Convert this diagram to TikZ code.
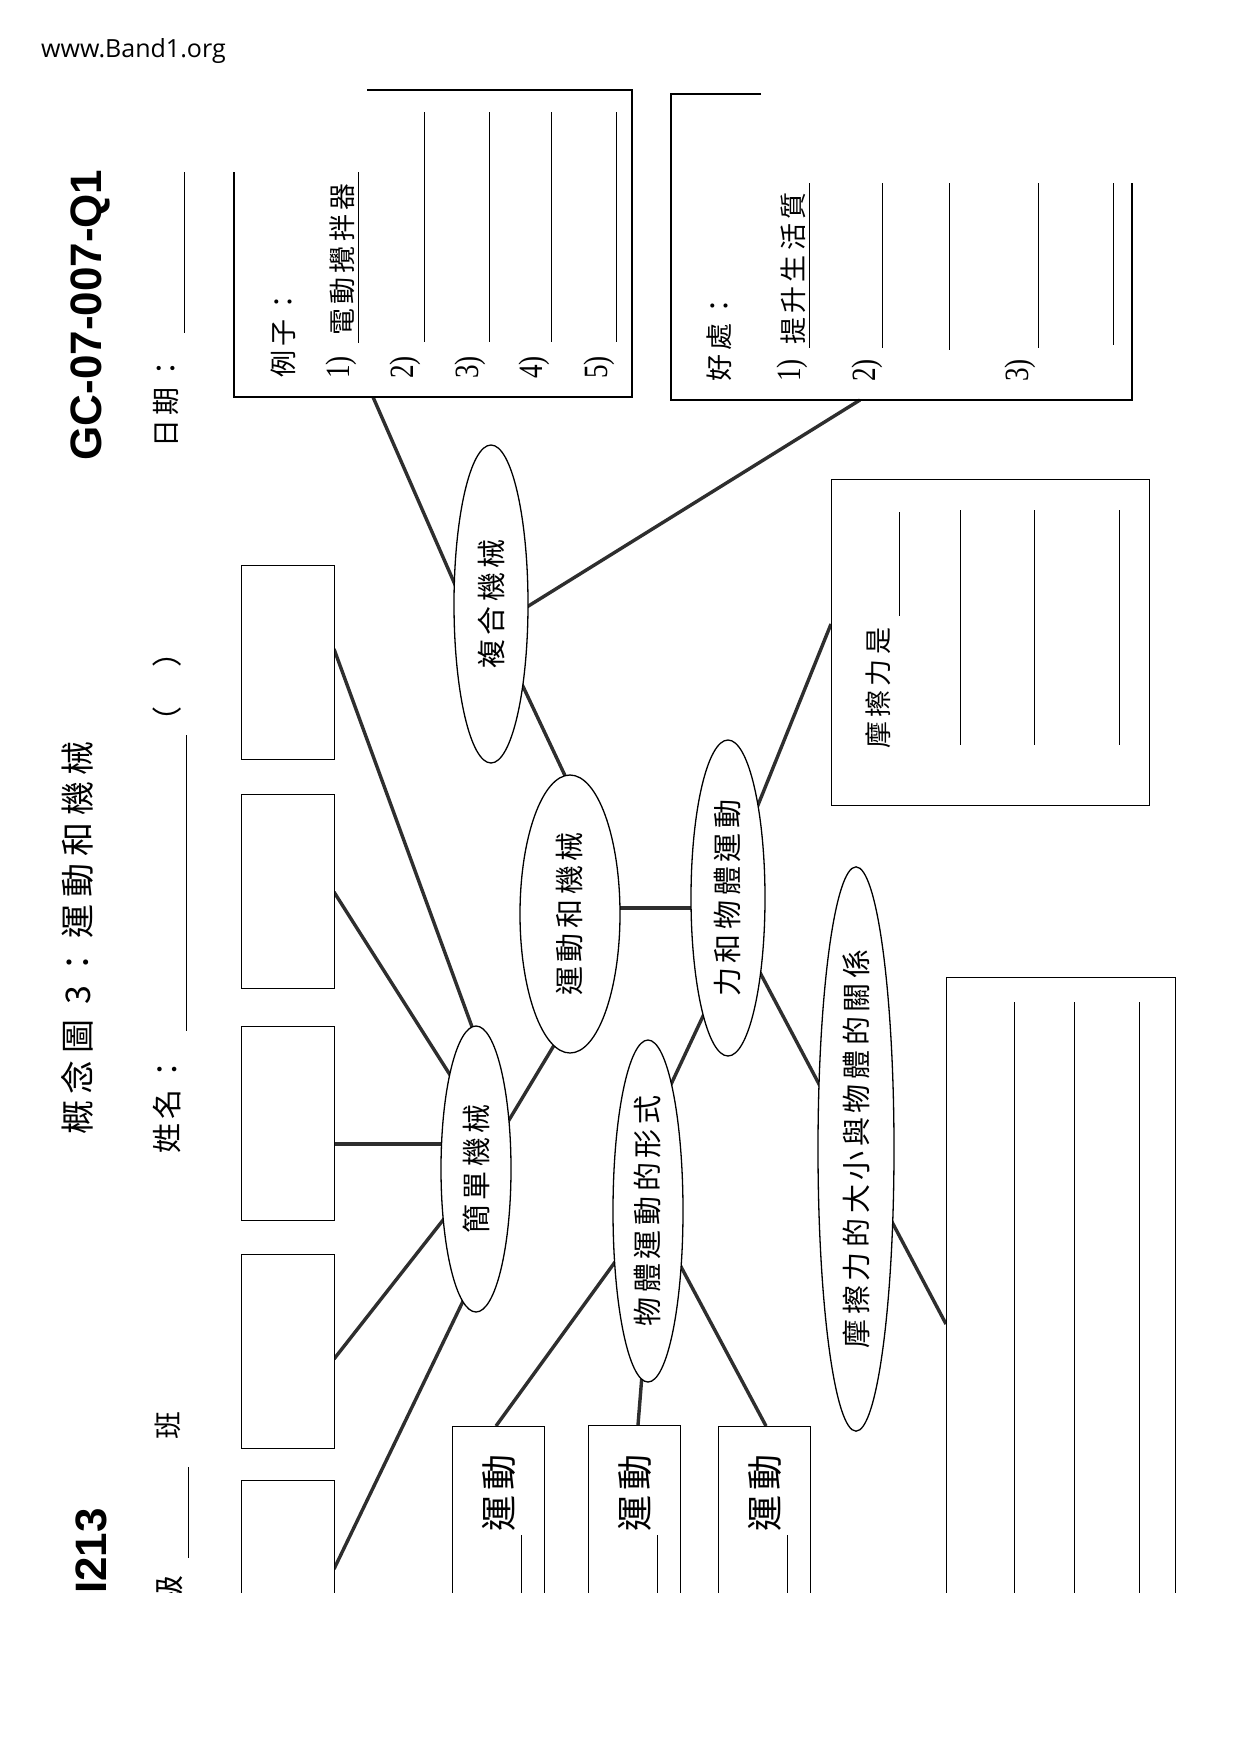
\documentclass[tikz,border=0pt]{standalone}
\usepackage{fontspec}
\setmainfont{Liberation Serif}
\newfontfamily\cjk[LetterSpace=16]{Noto Sans CJK TC}
\newfontfamily\cjkt[LetterSpace=20]{Noto Sans CJK TC}
\newfontfamily\hdsans{Liberation Sans}
\newfontfamily\websans{Open Sans}
\usetikzlibrary{shapes.geometric}
\pgfdeclarelayer{bg}
\pgfsetlayers{bg,main}
\newcommand\myfs[1]{\fontsize{#1}{#1}\selectfont}
\newcommand\numlbl[1]{\scalebox{0.8}[1]{#1}}
\tikzset{
  ell/.style={ellipse, draw, line width=1.3pt, fill=white, inner sep=0pt, rotate=90, font=\cjk\myfs{29}},
  sbox/.style={draw, line width=1.4pt, fill=white, inner sep=0pt, minimum width=93pt, minimum height=194pt, anchor=north west},
  frame/.style={line width=1.4pt},
  conn/.style={line width=3.4pt, draw=black!82},
  uline/.style={line width=1pt},
  vt/.style={rotate=90, anchor=west, inner sep=0pt},
  vc/.style={rotate=90, inner sep=0pt},
  numtxt/.style={rotate=90, anchor=west, inner sep=0pt, font=\myfs{34}},
}
\begin{document}
\begin{tikzpicture}[x=1pt,y=-1pt]
\begin{pgfonlayer}{bg}
\fill[white] (0,0) rectangle (1240,1754);
\end{pgfonlayer}
\useasboundingbox (0,0) rectangle (1240,1754);
\begin{scope}
\clip (0,0) rectangle (1240,1592);

% ---------- header ----------
\node[anchor=base west, inner sep=0pt, font=\websans\myfs{25}] (web) at (41,57) {www.Band1.org};
\node[vc, font=\hdsans\bfseries\myfs{44}] (code) at (90,315) {GC-07-007-Q1};
\node[vt, font=\hdsans\bfseries\myfs{44}] (num) at (91,1594) {I213};
\node[vt, font=\cjkt\myfs{34}] (title) at (77,1135) {概念圖 3：運動和機械};
\node[vt, font=\cjk\myfs{28}] (date) at (166,448) {日期：};
\draw[uline] (184,172) -- (184,333);
\node[vt, font=\cjk\myfs{30}] (name) at (167,1154) {姓名：};
\draw[uline] (186,735) -- (186,1031);
\node[vc, font=\cjk\myfs{30}] (paren) at (167,687) {（　）};
\node[vc, font=\cjk\myfs{28}] (cls) at (168,1425) {班};
\draw[uline] (188,1467) -- (188,1558);
\node[vt, font=\cjk\myfs{30}] (grade) at (169,1606) {級};

% ---------- examples box ----------
\draw[frame] (367,90) -- (632,90) -- (632,397) -- (234,397) -- (234,172);
\node[vt, font=\cjk\myfs{27}] (ex) at (283,378) {例子：};
\node[numtxt] (n1) at (341,379) {\numlbl{1)}};
\node[vt, font=\cjk\myfs{27}] (ex1) at (342,336) {電動攪拌器};
\draw[uline] (358,172) -- (358,343);
\node[numtxt] (n2) at (405,379) {\numlbl{2)}};
\draw[uline] (424,112) -- (424,342);
\node[numtxt] (n3) at (470,379) {\numlbl{3)}};
\draw[uline] (489,112) -- (489,342);
\node[numtxt] (n4) at (534,379) {\numlbl{4)}};
\draw[uline] (551,112) -- (551,342);
\node[numtxt] (n5) at (599,379) {\numlbl{5)}};
\draw[uline] (616,112) -- (616,342);

% ---------- benefits box ----------
\draw[frame] (761,94) -- (671,94) -- (671,400) -- (1132,400) -- (1132,183);
\node[vt, font=\cjk\myfs{27}] (bn) at (719,382) {好處：};
\node[numtxt] (m1) at (792,382) {\numlbl{1)}};
\node[vt, font=\cjk\myfs{27}] (bn1) at (793,345) {提升生活質};
\draw[uline] (809,183) -- (809,348);
\node[numtxt] (m2) at (867,382) {\numlbl{2)}};
\draw[uline] (882,183) -- (882,348);
\draw[uline] (949,183) -- (949,350);
\node[numtxt] (m3) at (1020,382) {\numlbl{3)}};
\draw[uline] (1038,183) -- (1038,348);
\draw[uline] (1113,183) -- (1113,345);

% ---------- friction box ----------
\node[draw, line width=1.4pt, fill=white, inner sep=0pt, minimum width=318pt, minimum height=326pt, anchor=north west] (fbox) at (831,479) {};
\node[vt, font=\cjk\myfs{27}] (ftxt) at (878,749) {摩擦力是};
\draw[uline] (899,512) -- (899,616);
\draw[uline] (960,510) -- (960,745);
\draw[uline] (1034,510) -- (1034,745);
\draw[uline] (1119,510) -- (1119,745);

% ---------- big answer box ----------
\node[draw, line width=1.4pt, fill=white, inner sep=0pt, minimum width=229pt, minimum height=700pt, anchor=north west] (bigbox) at (946,977) {};
\draw[uline] (1014,1002) -- (1014,1700);
\draw[uline] (1074,1002) -- (1074,1700);
\draw[uline] (1139,1002) -- (1139,1700);

% ---------- simple machine boxes ----------
\node[sbox] (bA) at (241,565) {};
\node[sbox] (bB) at (241,794) {};
\node[sbox] (bC) at (241,1026) {};
\node[sbox] (bD) at (241,1254) {};
\node[sbox] (bE) at (241,1480) {};

% ---------- motion boxes ----------
\node[sbox, minimum width=92pt, minimum height=220pt] (bF) at (452,1426) {};
\node[sbox, minimum width=92pt, minimum height=220pt] (bG) at (588,1425) {};
\node[sbox, minimum width=92pt, minimum height=220pt] (bH) at (718,1426) {};
\node[vt, font=\cjk\myfs{36}] (tF) at (499,1532) {運動};
\node[vt, font=\cjk\myfs{36}] (tG) at (635,1532) {運動};
\node[vt, font=\cjk\myfs{36}] (tH) at (765,1532) {運動};
\draw[uline] (521,1535) -- (521,1650);
\draw[uline] (657,1535) -- (657,1650);
\draw[uline] (787,1535) -- (787,1650);

% ---------- ellipses ----------
\node[ell, minimum width=318pt, minimum height=74pt] (eC) at (491,604) {複合機械};
\node[ell, minimum width=278pt, minimum height=100pt] (eM) at (570,914) {運動和機械};
\node[ell, minimum width=316pt, minimum height=74pt] (eF) at (728,898) {力和物體運動};
\node[ell, minimum width=286pt, minimum height=70pt] (eS) at (476,1169) {簡單機械};
\node[ell, minimum width=342pt, minimum height=70pt] (eK) at (648,1211) {物體運動的形式};
\node[ell, minimum width=556pt, minimum height=76pt] (eR) at (856,1149) {摩擦力的大小與物體的關係};

% ---------- connector end points ----------
\coordinate (c1a) at (373,397);  \coordinate (c1b) at (460,596);
\coordinate (c2a) at (860,400);  \coordinate (c2b) at (522,610);
\coordinate (c3a) at (520,680);  \coordinate (c3b) at (568,782);
\coordinate (c4a) at (615,908);  \coordinate (c4b) at (696,908);
\coordinate (c5a) at (754,815);  \coordinate (c5b) at (831,624);
\coordinate (c6a) at (756,965);  \coordinate (c6b) at (946,1324);
\coordinate (c7a) at (704,1014); \coordinate (c7b) at (666,1095);
\coordinate (c8a) at (556,1042); \coordinate (c8b) at (500,1135);
\coordinate (c9a) at (334,649);  \coordinate (c9b) at (475,1035);
\coordinate (c10a) at (334,892); \coordinate (c10b) at (452,1078);
\coordinate (c11a) at (334,1144);\coordinate (c11b) at (450,1144);
\coordinate (c12a) at (334,1359);\coordinate (c12b) at (447,1215);
\coordinate (c13a) at (334,1569);\coordinate (c13b) at (466,1295);
\coordinate (c14a) at (615,1262);\coordinate (c14b) at (496,1426);
\coordinate (c15a) at (642,1375);\coordinate (c15b) at (638,1425);
\coordinate (c16a) at (679,1263);\coordinate (c16b) at (766,1426);
\end{scope}

\begin{pgfonlayer}{bg}
\draw[conn] (c1a) -- (c1b);
\draw[conn] (c2a) -- (c2b);
\draw[conn] (c3a) -- (c3b);
\draw[conn] (c4a) -- (c4b);
\draw[conn] (c5a) -- (c5b);
\draw[conn] (c6a) -- (c6b);
\draw[conn] (c7a) -- (c7b);
\draw[conn] (c8a) -- (c8b);
\draw[conn] (c9a) -- (c9b);
\draw[conn] (c10a) -- (c10b);
\draw[conn] (c11a) -- (c11b);
\draw[conn] (c12a) -- (c12b);
\draw[conn] (c13a) -- (c13b);
\draw[conn] (c14a) -- (c14b);
\draw[conn] (c15a) -- (c15b);
\draw[conn] (c16a) -- (c16b);
\end{pgfonlayer}
\end{tikzpicture}
\end{document}
